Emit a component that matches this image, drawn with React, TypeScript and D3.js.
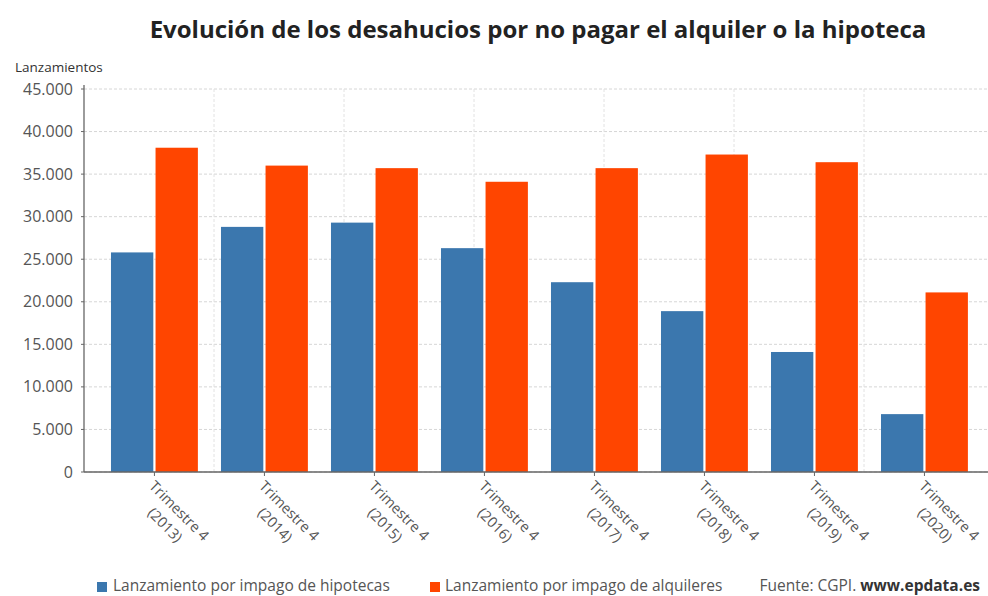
import React from "react";
import * as d3 from "d3";

const categories = ["2013", "2014", "2015", "2016", "2017", "2018", "2019", "2020"];
const seriesNames = ["Lanzamiento por impago de hipotecas", "Lanzamiento por impago de alquileres"];
const hipotecas = [25800, 28800, 29300, 26300, 22300, 18900, 14100, 6800];
const alquileres = [38100, 36000, 35700, 34100, 35700, 37300, 36400, 21100];
const yTicks = [0, 5000, 10000, 15000, 20000, 25000, 30000, 35000, 40000, 45000];
const colors = ["#3b77ae", "#ff4500"];

const W = 988;
const H = 596;
const left = 84;
const right = 988;
const top = 89;
const bottom = 472;
const font = "'Open Sans', sans-serif";

const fmt = d3.formatLocale({ decimal: ",", thousands: ".", grouping: [3], currency: ["", "€"] }).format(",d");

export default function App() {
  const x = d3.scaleBand<string>().domain(categories).range([left, right]).paddingInner(0.21).paddingOuter(0.214).align(0.573);
  const sub = d3.scaleBand<number>().domain([0, 1]).range([0, x.bandwidth()]).paddingInner(0.05);
  const y = d3.scaleLinear().domain([0, 45000]).range([bottom, top]);
  const grid = d3.scaleLinear().domain([0, 7]).range([left, left + 7 * 130]);
  const series = [hipotecas, alquileres];

  return (
    <svg width={W} height={H} style={{ position: "absolute", left: 0, top: 0, background: "#fff" }} fontFamily={font}>
      <text x={538} y={38} textAnchor="middle" fontSize={24} fontWeight={700} fill="#222">
        Evolución de los desahucios por no pagar el alquiler o la hipoteca
      </text>
      <text x={15} y={72} fontSize={13.5} fill="#333">Lanzamientos</text>

      {yTicks.map((t) => (
        <line key={"hg" + t} x1={left} x2={right} y1={y(t)} y2={y(t)} stroke="#d6d6d6" strokeDasharray="3,2" />
      ))}
      {[1, 2, 3, 4, 5, 6].map((k) => (
        <line key={"vg" + k} x1={grid(k)} x2={grid(k)} y1={top} y2={bottom} stroke="#e2e2e2" strokeDasharray="3,2" />
      ))}

      {categories.map((c, i) =>
        series.map((s, j) => (
          <rect key={c + j} x={(x(c) as number) + (sub(j) as number)} y={y(s[i])} width={sub.bandwidth()} height={bottom - y(s[i])} fill={colors[j]} />
        ))
      )}

      <line x1={left} x2={left} y1={top - 4} y2={bottom} stroke="#666" strokeWidth={1.3} />
      <line x1={left} x2={right} y1={bottom} y2={bottom} stroke="#666" strokeWidth={1.3} />
      {yTicks.map((t) => (
        <g key={"yt" + t}>
          <line x1={left - 3} x2={left} y1={y(t)} y2={y(t)} stroke="#666" />
          <text x={left - 11} y={y(t) + 5.5} textAnchor="end" fontSize={16} fill="#555">{fmt(t)}</text>
        </g>
      ))}
      {categories.map((c) => {
        const cx = (x(c) as number) + x.bandwidth() / 2;
        return (
          <g key={"xt" + c}>
            <line x1={cx} x2={cx} y1={bottom} y2={bottom + 4} stroke="#666" />
            <g transform={`translate(${cx},${bottom}) rotate(45)`}>
              <text x={45} y={15} textAnchor="middle" fontSize={14.5} fill="#555">Trimestre 4</text>
              <text x={45} y={35} textAnchor="middle" fontSize={14.5} fill="#555">({c})</text>
            </g>
          </g>
        );
      })}

      <rect x={97} y={582} width={10} height={10} fill={colors[0]} />
      <text x={113} y={591} fontSize={15.5} fill="#555">{seriesNames[0]}</text>
      <rect x={430} y={582} width={10} height={10} fill={colors[1]} />
      <text x={445} y={591} fontSize={15.5} fill="#555">{seriesNames[1]}</text>
      <text x={980} y={591} textAnchor="end" fontSize={15.5} fill="#555">
        Fuente: CGPI. <tspan fontWeight={700} fill="#333">www.epdata.es</tspan>
      </text>
    </svg>
  );
}
